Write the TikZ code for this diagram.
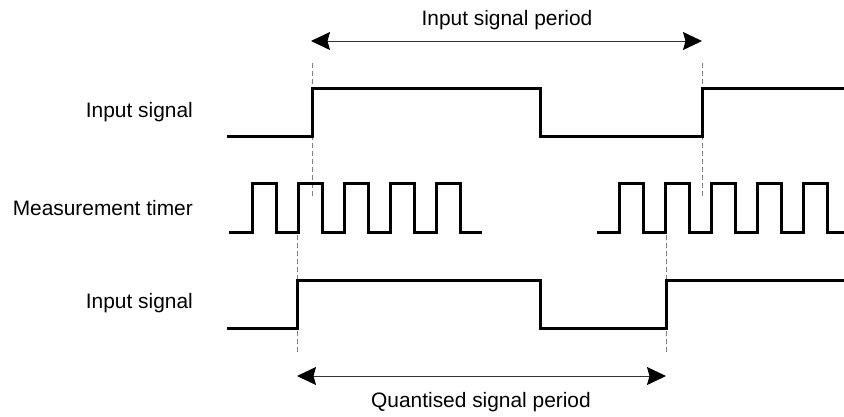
\documentclass[tikz,border=0pt]{standalone}
\usepackage{fontspec}
\setmainfont{Liberation Sans}
\usetikzlibrary{arrows.meta}
\begin{document}
\begin{tikzpicture}[x=1pt,y=-1pt,
  wave/.style={line width=3pt, line join=miter, line cap=butt},
  guide/.style={gray, line width=0.9pt, dash pattern=on 5pt off 3pt},
  span/.style={line width=1pt, black!80, {Stealth[length=19pt,width=18pt,inset=2.5pt,black]}-{Stealth[length=19pt,width=18pt,inset=2.5pt,black]}},
  lbl/.style={font=\fontsize{20.9}{25}\selectfont, inner sep=0pt},
]
\useasboundingbox (0,0) rectangle (844,416);

% labels
\node[lbl, anchor=east] (l1) at (193,112) {Input signal};
\node[lbl, anchor=east] (l2) at (193,208) {Measurement timer};
\node[lbl, anchor=east] (l3) at (193,303) {Input signal};
\node[lbl] (tp) at (507,20) {Input signal period};
\node[lbl] (bp) at (481,402) {Quantised signal period};

% guide coordinates
\coordinate (g1t) at (312,63);  \coordinate (g1b) at (312,197);
\coordinate (g2t) at (702,63);  \coordinate (g2b) at (702,197);
\coordinate (g3t) at (297,235); \coordinate (g3b) at (297,352);
\coordinate (g4t) at (666,235); \coordinate (g4b) at (666,352);
\draw[guide] (g1t) -- (g1b);
\draw[guide] (g2t) -- (g2b);
\draw[guide] (g3t) -- (g3b);
\draw[guide] (g4t) -- (g4b);

% span arrows
\coordinate (a1l) at (311,41);  \coordinate (a1r) at (702,41);
\coordinate (a2l) at (297,376); \coordinate (a2r) at (666,376);
\draw[span] (a1l) -- (a1r);
\draw[span] (a2l) -- (a2r);

% input signal (top)
\draw[wave] (227,136) -- (312,136) -- (312,88) -- (540,88) -- (540,136) -- (702,136) -- (702,88) -- (844,88);

% measurement timer, first burst
\draw[wave] (229,232)
  \foreach \r in {252,298,344,390,436} { -- (\r,232) -- (\r,183) -- (\r+24,183) -- (\r+24,232) }
  -- (482,232);
% second burst
\draw[wave] (597,232)
  \foreach \r in {619,665,711,757,803} { -- (\r,232) -- (\r,183) -- (\r+24,183) -- (\r+24,232) }
  -- (844,232);

% input signal (bottom)
\draw[wave] (227,328) -- (297,328) -- (297,280) -- (540,280) -- (540,328) -- (666,328) -- (666,280) -- (844,280);
\end{tikzpicture}
\end{document}
